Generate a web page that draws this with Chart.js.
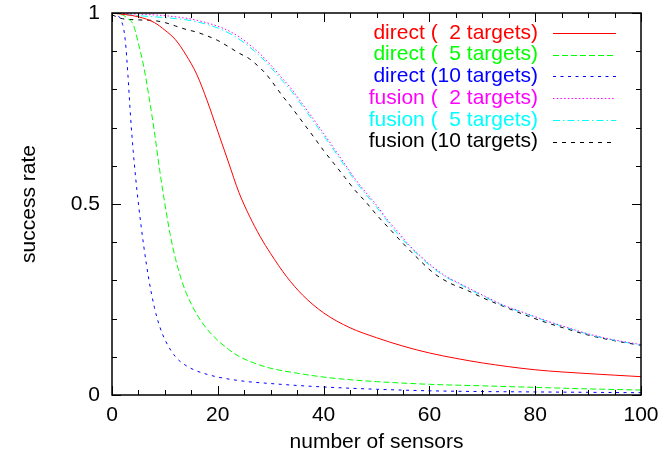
<!DOCTYPE html>
<html>
<head>
<meta charset="utf-8">
<script src="https://cdn.jsdelivr.net/npm/chart.js@4.4.0/dist/chart.umd.min.js"></script>
<style>
  html, body { margin: 0; padding: 0; background: #fff; }
  canvas { display: block; }
</style>
</head>
<body>
<canvas id="rateChart" width="664" height="465"></canvas>
<script>
// success rate vs number of sensors
var directTwoX    = [0, 5, 8, 10, 12, 14, 16, 18, 20, 22, 24, 26, 28, 30, 33, 36, 40, 45, 50, 55, 60, 65, 70, 80, 90, 100];
var directTwoY    = [1.0, 0.99, 0.975, 0.955, 0.93, 0.89, 0.84, 0.77, 0.69, 0.61, 0.53, 0.468, 0.415, 0.37, 0.31, 0.262, 0.215, 0.176, 0.15, 0.128, 0.11, 0.096, 0.084, 0.066, 0.056, 0.048];

var directFiveX   = [0, 2, 3, 4, 5, 6, 7, 8, 9, 10, 11, 12, 13, 14, 16, 18, 20, 22, 24, 27, 30, 35, 40, 45, 50, 60, 70, 80, 90, 100];
var directFiveY   = [1.0, 0.995, 0.985, 0.97, 0.92, 0.86, 0.78, 0.69, 0.59, 0.5, 0.42, 0.357, 0.307, 0.268, 0.212, 0.172, 0.143, 0.12, 0.101, 0.083, 0.07, 0.057, 0.047, 0.04, 0.035, 0.028, 0.024, 0.02, 0.016, 0.013];

var directTenX    = [0, 1, 2, 2.5, 3, 3.5, 4, 4.5, 5, 6, 7, 8, 9, 10, 12, 14, 16, 18, 20, 25, 30, 35, 40, 50, 60, 70, 80, 90, 100];
var directTenY    = [1.0, 0.995, 0.97, 0.93, 0.84, 0.73, 0.64, 0.565, 0.5, 0.39, 0.3, 0.23, 0.18, 0.145, 0.1, 0.077, 0.063, 0.054, 0.047, 0.036, 0.03, 0.025, 0.021, 0.015, 0.011, 0.009, 0.008, 0.007, 0.006];

var fusionTwoX    = [0, 5, 10, 15, 18, 21, 24, 26, 28, 30, 32, 34, 36, 38, 40, 42, 44, 46, 48, 50, 52, 54, 56, 58, 60, 63, 66, 70, 74, 78, 82, 86, 90, 95, 100];
var fusionTwoY    = [1.0, 0.997, 0.993, 0.984, 0.974, 0.96, 0.938, 0.917, 0.893, 0.864, 0.832, 0.8, 0.762, 0.724, 0.685, 0.645, 0.605, 0.565, 0.53, 0.497, 0.46, 0.428, 0.395, 0.368, 0.343, 0.312, 0.29, 0.262, 0.235, 0.215, 0.195, 0.177, 0.16, 0.144, 0.132];

var fusionFiveX   = [0, 5, 10, 15, 18, 21, 24, 26, 28, 30, 32, 34, 36, 38, 40, 42, 44, 46, 48, 50, 52, 54, 56, 58, 60, 63, 66, 70, 74, 78, 82, 86, 90, 95, 100];
var fusionFiveY   = [1.0, 0.993, 0.988, 0.98, 0.97, 0.955, 0.932, 0.911, 0.887, 0.858, 0.826, 0.794, 0.756, 0.718, 0.679, 0.64, 0.6, 0.56, 0.525, 0.492, 0.456, 0.422, 0.392, 0.365, 0.34, 0.31, 0.288, 0.26, 0.234, 0.214, 0.194, 0.176, 0.159, 0.143, 0.131];

var fusionTenX    = [0, 2, 5, 8, 10, 12, 14, 16, 18, 20, 22, 24, 26, 28, 29, 30, 31, 32, 34, 36, 38, 40, 42, 44, 46, 48, 50, 53, 55, 58, 61, 64, 67, 70, 74, 78, 82, 86, 90, 95, 100];
var fusionTenY    = [0.995, 0.985, 0.982, 0.98, 0.975, 0.966, 0.957, 0.95, 0.94, 0.928, 0.912, 0.895, 0.88, 0.856, 0.842, 0.825, 0.806, 0.787, 0.752, 0.715, 0.678, 0.64, 0.605, 0.57, 0.535, 0.505, 0.472, 0.427, 0.397, 0.355, 0.317, 0.292, 0.275, 0.255, 0.232, 0.21, 0.19, 0.173, 0.157, 0.142, 0.13];

var seriesLabels  = ['direct (  2 targets)', 'direct (  5 targets)', 'direct (10 targets)',
                     'fusion (  2 targets)', 'fusion (  5 targets)', 'fusion (10 targets)'];
var seriesColors  = ['#ff0000', '#00ff00', '#0000ff', '#ff00ff', '#00ffff', '#000000'];
var seriesDashes  = [[], [6, 3], [3, 4.5], [1.5, 2.2], [7, 3, 1.5, 3], [4, 5]];

var xTicks = [0, 20, 40, 60, 80, 100];
var yTicks = [0, 0.5, 1];

var FONT = 'Liberation Sans, Arial, sans-serif';
// wanted plot box in canvas pixels
var AREA = { left: 112, top: 13, right: 641, bottom: 395 };

function points(xs, ys) {
    return xs.map(function (x, i) { return { x: x, y: ys[i] }; });
}

var seriesData = [
    points(directTwoX, directTwoY),
    points(directFiveX, directFiveY),
    points(directTenX, directTenY),
    points(fusionTwoX, fusionTwoY),
    points(fusionFiveX, fusionFiveY),
    points(fusionTenX, fusionTenY)
];

var datasets = seriesData.map(function (d, i) {
    return {
        label: seriesLabels[i],
        data: d,
        borderColor: seriesColors[i],
        backgroundColor: seriesColors[i],
        borderDash: seriesDashes[i],
        borderWidth: 1,
        pointRadius: 0,
        fill: false,
        cubicInterpolationMode: 'monotone'
    };
});

// frame with inward ticks on all four sides
var framePlugin = {
    id: 'frame',
    afterDatasetsDraw: function (chart) {
        var ctx = chart.ctx, a = chart.chartArea;
        var xs = chart.scales.x, ys = chart.scales.y;
        ctx.save();
        ctx.strokeStyle = '#000';
        ctx.lineWidth = 1;
        ctx.setLineDash([]);
        ctx.beginPath();
        var v, px, len;
        for (v = 0; v <= 100; v += 5) {
            px = Math.round(xs.getPixelForValue(v)) + 0.5;
            len = (v % 20 === 0) ? 9 : 5;
            ctx.moveTo(px, a.bottom); ctx.lineTo(px, a.bottom - len);
            ctx.moveTo(px, a.top);    ctx.lineTo(px, a.top + len);
        }
        for (var k = 0; k <= 10; k++) {
            v = k / 10;
            px = Math.round(ys.getPixelForValue(v)) + 0.5;
            len = (k % 5 === 0) ? 9 : 5;
            ctx.moveTo(a.left, px);  ctx.lineTo(a.left + len, px);
            ctx.moveTo(a.right, px); ctx.lineTo(a.right - len, px);
        }
        ctx.stroke();
        ctx.lineWidth = 1.5;
        ctx.strokeRect(a.left, a.top, a.right - a.left, a.bottom - a.top);
        ctx.restore();
    }
};

// key in the top right corner: coloured text, sample line after it
var keyPlugin = {
    id: 'key',
    afterDraw: function (chart) {
        var ctx = chart.ctx;
        ctx.save();
        ctx.font = '21px ' + FONT;
        ctx.textAlign = 'right';
        ctx.textBaseline = 'middle';
        chart.data.datasets.forEach(function (ds, i) {
            var y = 33 + i * 21.7;
            ctx.fillStyle = ds.borderColor;
            ctx.fillText(ds.label, 538, y);
            ctx.strokeStyle = ds.borderColor;
            ctx.lineWidth = 1;
            ctx.setLineDash(ds.borderDash);
            ctx.beginPath();
            ctx.moveTo(553, Math.round(y) + 0.5);
            ctx.lineTo(616, Math.round(y) + 0.5);
            ctx.stroke();
        });
        ctx.restore();
    }
};

var pad = { left: 0, right: 23, top: 13, bottom: 0 };

var ctx = document.getElementById('rateChart').getContext('2d');
var chart = new Chart(ctx, {
    type: 'line',
    data: { datasets: datasets },
    options: {
        responsive: false,
        animation: false,
        layout: { padding: pad },
        plugins: {
            legend: { display: false },
            tooltip: { enabled: false }
        },
        scales: {
            x: {
                type: 'linear',
                min: 0,
                max: 100,
                afterBuildTicks: function (s) { s.ticks = xTicks.map(function (v) { return { value: v }; }); },
                afterFit: function (s) { s.height = 70; },
                // tick marks are drawn by the frame plugin; tickLength only spaces the labels
                grid: { display: false, drawTicks: true, tickLength: 8 },
                border: { display: false },
                ticks: { color: '#000', font: { family: FONT, size: 21 }, padding: 0, maxRotation: 0 },
                title: { display: true, text: 'number of sensors', color: '#000',
                         font: { family: FONT, size: 21 }, padding: { bottom: 10 } }
            },
            y: {
                min: 0,
                max: 1,
                afterBuildTicks: function (s) { s.ticks = yTicks.map(function (v) { return { value: v }; }); },
                afterFit: function (s) { s.width = 112; },
                grid: { display: false, drawTicks: true, tickLength: 12 },
                border: { display: false },
                ticks: { color: '#000', font: { family: FONT, size: 21 }, padding: 0,
                         callback: function (v) { return String(v); } },
                title: { display: true, text: 'success rate', color: '#000',
                         font: { family: FONT, size: 21 }, padding: { top: 17 } }
            }
        }
    },
    plugins: [framePlugin, keyPlugin]
});

// nudge the layout padding so the plot box lands where it should
for (var pass = 0; pass < 3; pass++) {
    var a = chart.chartArea;
    pad = {
        left: pad.left + AREA.left - a.left,
        top: pad.top + AREA.top - a.top,
        right: pad.right + a.right - AREA.right,
        bottom: pad.bottom + a.bottom - AREA.bottom
    };
    chart.options.layout.padding = pad;
    chart.update();
}
</script>
</body>
</html>
